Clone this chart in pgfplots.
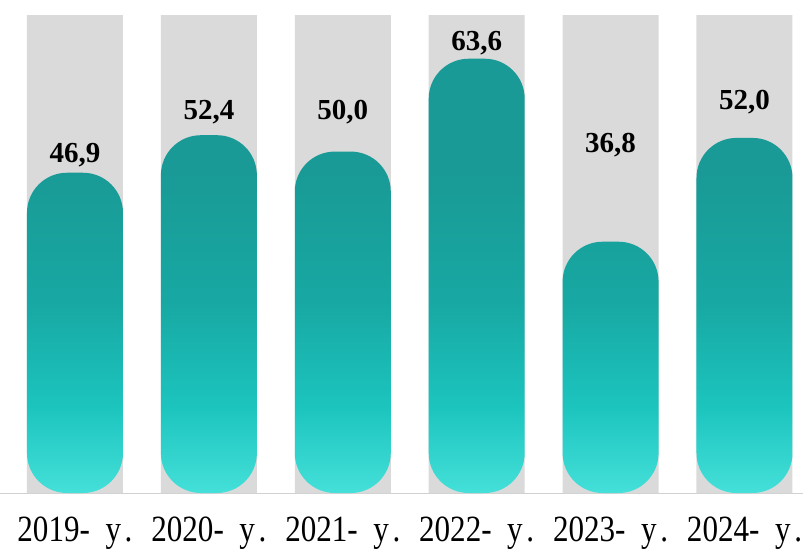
\documentclass[border=0pt]{standalone}
\usepackage{pgfplots}
\pgfplotsset{compat=1.18}
\usepackage{fontspec}
\setmainfont{Liberation Serif}
\newfontfamily\xlab{Liberation Serif}[FakeStretch=0.84]
\definecolor{greybar}{RGB}{218,218,218}
\definecolor{tealtop}{RGB}{25,154,150}
\definecolor{tealmid}{RGB}{24,168,163}
\definecolor{teallow}{RGB}{28,196,190}
\definecolor{tealbot}{RGB}{68,224,217}
\pgfdeclareverticalshading{tealshade}{100bp}{color(0bp)=(tealbot); color(25bp)=(tealbot); color(35bp)=(teallow); color(47bp)=(tealmid); color(62bp)=(tealtop); color(100bp)=(tealtop)}
\newcommand{\yl}[1]{#1-\hspace{0.42em}y\hspace{0.1em}.}
\begin{document}
\begin{tikzpicture}
\begin{axis}[
  scale only axis,
  width=803pt, height=493pt,
  xmin=-0.56, xmax=5.437,
  ymin=0, ymax=72.2,
  axis x line=bottom,
  axis y line=none,
  x axis line style={draw=black!18, line width=1pt, -},
  xtick={0,1,2,3,4,5},
  xticklabels={\yl{2019},\yl{2020},\yl{2021},\yl{2022},\yl{2023},\yl{2024}},
  major tick length=0pt,
  x tick label style={font=\xlab\fontsize{37}{39}\selectfont, yshift=-20pt, anchor=north},
  clip=false,
]
\addplot[ybar, bar width=96pt, bar shift=0pt, fill=greybar, draw=none]
  coordinates {(0,70) (1,70) (2,70) (3,70) (4,70) (5,70)};
\addplot[ybar, bar width=96pt, bar shift=0pt, draw=none,
  shading=tealshade, rounded corners=40pt]
  coordinates {(0,46.9) (1,52.4) (2,50.0) (3,63.6) (4,36.8) (5,52.0)};
\addplot[only marks, mark=none, nodes near coords, point meta=explicit symbolic,
  nodes near coords style={anchor=center, font=\fontsize{29}{31}\selectfont\bfseries, text=black}]
  table[meta=label] {
x y label
0 49.5 46,9
1 55.8 52,4
2 55.8 50,0
3 65.9 63,6
4 51.0 36,8
5 57.3 52,0
};
\end{axis}
\pgfresetboundingbox
\path (0,-61pt) rectangle (803pt,493pt);
\end{tikzpicture}
\end{document}
